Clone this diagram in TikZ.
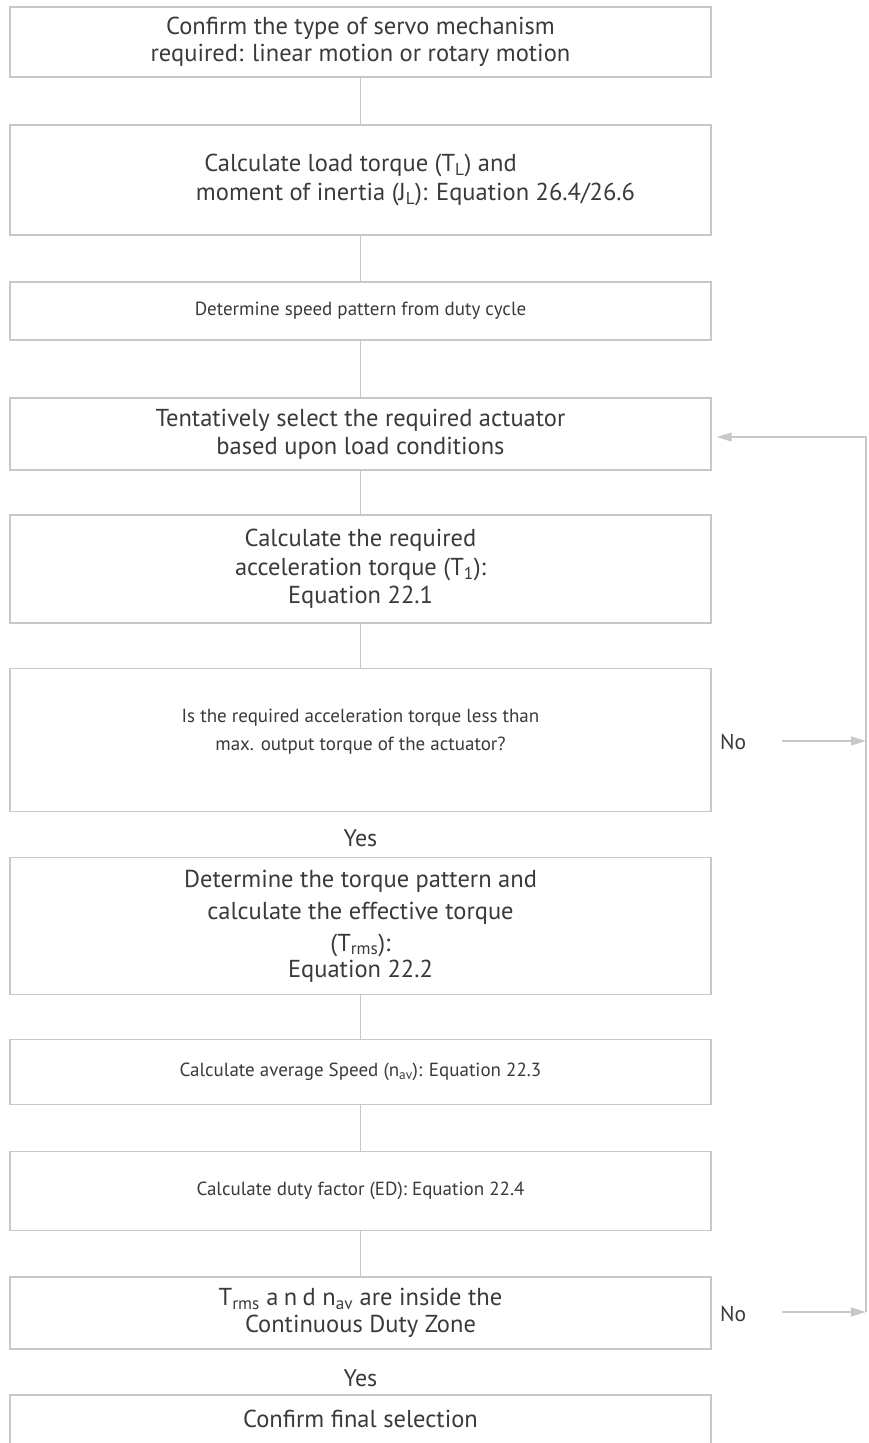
\documentclass[tikz,border=0pt]{standalone}
\usepackage{fontspec}
\setmainfont{PT Sans}
\usetikzlibrary{arrows.meta}
\definecolor{rahmen}{HTML}{C8C8CA}
\definecolor{schrift}{HTML}{3A3A3A}
\tikzset{
    kasten/.style={draw=rahmen, line width=1.4pt, minimum width=701pt, inner sep=0pt,
        align=center, text=schrift, font=\fontsize{24.5}{29}\selectfont},
    schmal/.style={font=\fontsize{19}{28}\selectfont},
    beschr/.style={text=schrift, inner sep=0pt, font=\fontsize{24}{29}\selectfont},
    linie/.style={draw=rahmen, line width=1.2pt},
    pfeil/.style={draw=rahmen, line width=1.2pt, -{Triangle[length=15pt,width=9pt]}}
}
\begin{document}
\begin{tikzpicture}[x=1pt,y=-1pt]
    \useasboundingbox (0,0) rectangle (868,1443);
    \clip (0,0) rectangle (868,1443);
    \node[kasten, minimum height=70pt] (typ) at (360.5,42) {Confirm the type of servo mechanism\\[-2pt]required: linear motion or rotary motion};
    \node[kasten, minimum height=110pt] (last) at (360.5,180) {Calculate load torque (T\textsubscript{L}) and\\\hspace*{110pt}moment of inertia (J\textsubscript{L}): Equation 26.4/26.6};
    \node[kasten, schmal, minimum height=58pt] (muster) at (360.5,311) {Determine speed pattern from duty cycle};
    \node[kasten, minimum height=72pt] (wahl) at (360.5,434) {Tentatively select the required actuator\\[-1pt]based upon load conditions};
    \node[kasten, minimum height=108pt] (beschl) at (360.5,569) {Calculate the required\\acceleration torque (T\textsubscript{1}):\\[-1pt]Equation 22.1};
    \node[kasten, schmal, minimum height=143pt] (frage) at (360.5,740) {\raisebox{5pt}[0pt][0pt]{\begin{tabular}{@{}c@{}}Is the required acceleration torque less than\\max. output torque of the actuator?\end{tabular}}};
    \node[beschr] (jaA) at (360.5,838) {Yes};
    \node[kasten, minimum height=137pt] (moment) at (360.5,926) {Determine the torque pattern and\\[3pt]calculate the effective torque\\[3pt](T\textsubscript{rms}):\\[-3pt]Equation 22.2};
    \node[kasten, schmal, minimum height=65pt] (drehz) at (360.5,1072) {Calculate average Speed (n\textsubscript{av}): Equation 22.3};
    \node[kasten, schmal, minimum height=79pt] (ed) at (360.5,1191) {Calculate duty factor (ED): Equation 22.4};
    \node[kasten, minimum height=72pt] (zone) at (360.5,1313) {T\textsubscript{rms} {\addfontfeature{LetterSpace=22}and} n\textsubscript{av} are inside the\\[-2pt]Continuous Duty Zone};
    \node[beschr] (jaB) at (360.5,1378) {Yes};
    \node[kasten, minimum height=100pt] (ende) at (360.5,1445) {\raisebox{0pt}[0pt][0pt]{\raisebox{18pt}{Confirm final selection}}};
    \node[beschr, font=\fontsize{21.5}{28}\selectfont, anchor=west] (neinA) at (720,742) {No};
    \node[beschr, font=\fontsize{21.5}{28}\selectfont, anchor=west] (neinB) at (720,1314) {No};
    \coordinate (schleifeA) at (866,741);
    \coordinate (schleifeB) at (866,1312);
    \coordinate (schleifeOben) at (866,437);
    \draw[linie] (typ) -- (last);
    \draw[linie] (last) -- (muster);
    \draw[linie] (muster) -- (wahl);
    \draw[linie] (wahl) -- (beschl);
    \draw[linie] (beschl) -- (frage);
    \draw[linie] (moment) -- (drehz);
    \draw[linie] (drehz) -- (ed);
    \draw[linie] (ed) -- (zone);
    \draw[pfeil, shorten <=36pt] (neinA.east |- schleifeA) -- (schleifeA);
    \draw[pfeil, shorten <=36pt] (neinB.east |- schleifeB) -- (schleifeB);
    \draw[pfeil, shorten >=5pt] (schleifeB) -- (schleifeOben) -- (wahl.east |- schleifeOben);
\end{tikzpicture}
\end{document}
